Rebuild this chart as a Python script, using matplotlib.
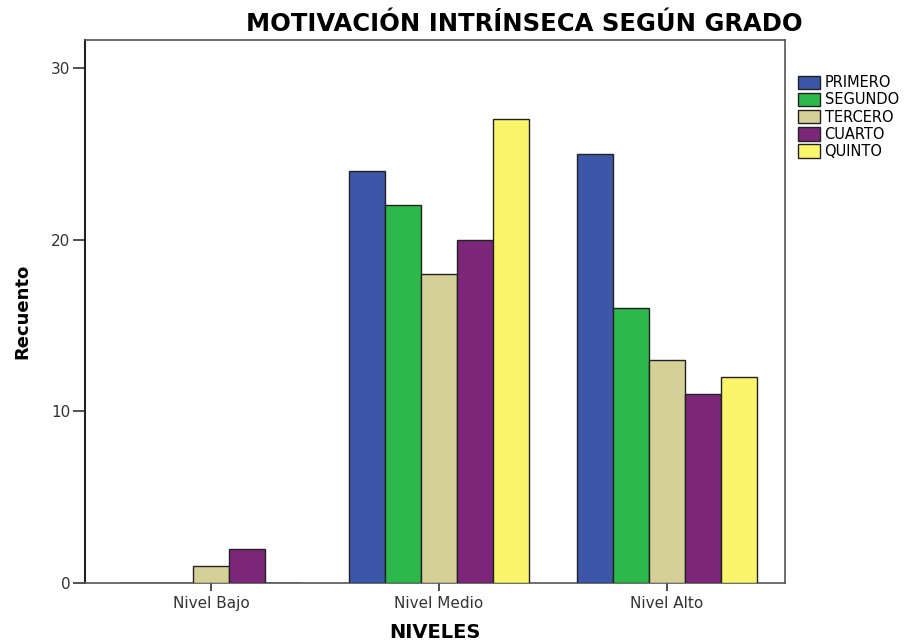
import numpy as np
import matplotlib
matplotlib.use("Agg")
from matplotlib import pyplot as plt
from matplotlib.patches import Patch

plt.rcParams['font.family'] = ['DejaVu Sans']

niveles = ["Nivel Bajo", "Nivel Medio", "Nivel Alto"]
grados = ["PRIMERO", "SEGUNDO", "TERCERO", "CUARTO", "QUINTO"]
primero = [0, 24, 25]
segundo = [0, 22, 16]
tercero = [1, 18, 13]
cuarto = [2, 20, 11]
quinto = [0, 27, 12]
valores = [primero, segundo, tercero, cuarto, quinto]
colores = ["#3C56A8", "#2DB84B", "#D5CF98", "#7B2678", "#FBF56B"]

fig = plt.figure(figsize=(9.1, 6.44), dpi=100)
ax = fig.add_axes([0.0934, 0.0947, 0.7692, 0.8432])

x = np.arange(len(niveles))
w = 0.158
for k in range(len(grados)):
    pos = x + (k - 2) * w
    vals = np.array(valores[k])
    ax.bar(pos, vals, width=w, color=colores[k], edgecolor="#222222",
           linewidth=1.0, zorder=3)

ax.set_xlim(-0.553, 2.517)
ax.set_ylim(0, 31.63)
ax.set_yticks([0, 10, 20, 30])
ax.set_xticks(x)
ax.set_xticklabels(niveles, fontsize=11)
ax.tick_params(axis='y', labelsize=11, length=9, width=1.2, pad=1.5,
               direction='out', colors='#333333')
ax.tick_params(axis='x', length=6, width=1.2, pad=3, direction='out', colors='#333333')
for s in ['top', 'right', 'bottom']:
    ax.spines[s].set_color('#555555')
    ax.spines[s].set_linewidth(1.2)
ax.spines['left'].set_color('#222222')
ax.spines['left'].set_linewidth(1.5)

ax.set_ylabel("Recuento", fontsize=13, fontweight='bold', labelpad=14)
ax.set_xlabel("NIVELES", fontsize=14, fontweight='bold', labelpad=9)
fig.text(0.576, 0.963, "MOTIVACIÓN INTRÍNSECA SEGÚN GRADO", fontsize=17.5,
         fontweight='bold', ha='center', va='center')

handles = [Patch(facecolor=c, edgecolor="#222222", linewidth=1.0) for c in colores]
ax.legend(handles, grados, loc='upper left', bbox_to_anchor=(1.019, 0.935),
          frameon=False, fontsize=10.5, handlelength=1.5, handleheight=1.05,
          handletextpad=0.3, labelspacing=0.15, borderaxespad=0.0, borderpad=0.0)

fig.savefig("out.png", dpi=100)
